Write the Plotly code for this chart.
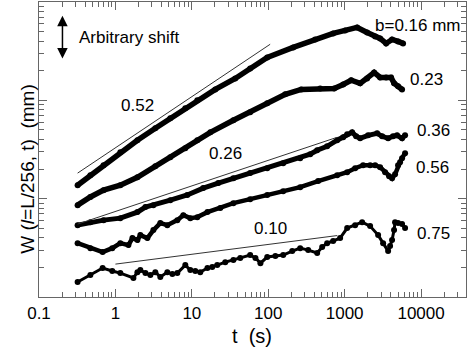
import numpy as np
import plotly.graph_objects as go

# W(l=L/256, t) curves, one per gap b (arbitrary shift)
t_016 = [0.32, 0.47, 0.70, 1.16, 1.94, 3.33, 5.23, 8.22, 11.8, 20.3, 37, 58, 97, 212,
         411, 707, 1015, 1456, 1968, 2505, 2911, 3486, 4174, 5000, 5813]
w_016 = [1.37, 1.73, 2.19, 2.97, 3.93, 5.20, 6.56, 8.29, 10.0, 12.9, 16.7, 21.1, 27.3, 34.5,
         41.6, 47.9, 51.4, 55.1, 49.0, 44.6, 42.6, 37.9, 41.6, 39.7, 37.9]

t_023 = [0.32, 0.47, 0.70, 1.16, 1.94, 3.33, 5.23, 8.22, 11.8, 17.5, 35, 58, 97, 167,
         270, 478, 729, 956, 1217, 1595, 1968, 2430, 2911, 3486, 4051, 4432, 5000, 5642]
w_023 = [0.859, 1.04, 1.22, 1.37, 1.65, 2.14, 2.64, 3.26, 3.93, 4.73, 6.27, 7.55, 9.33, 11.5,
         12.9, 13.2, 13.2, 14.5, 16.0, 14.9, 16.7, 19.2, 17.1, 17.1, 17.1, 14.9, 13.9, 12.9]

t_036 = [0.32, 0.47, 0.70, 1.16, 1.94, 2.47, 3.14, 5.23, 8.73, 14.1, 22.2, 35, 58, 97, 157,
         262, 354, 437, 590, 798, 956, 1079, 1253, 1413, 1595, 2028, 2660, 3092, 3704,
         4301, 4851, 5642, 6177]
w_036 = [0.538, 0.577, 0.605, 0.634, 0.730, 0.821, 0.859, 0.966, 1.09, 1.28, 1.44, 1.61,
         1.82, 2.04, 2.29, 2.58, 2.83, 3.11, 3.41, 3.93, 4.21, 4.52, 4.73, 4.31, 4.11, 4.41,
         4.62, 4.31, 4.11, 4.31, 4.41, 4.11, 4.41]

t_056 = [0.32, 0.47, 0.68, 0.91, 1.16, 1.48, 1.67, 1.94, 2.12, 2.62, 3.14, 3.87, 4.78, 6.46,
         7.74, 9.55, 11.8, 16.0, 23.6, 35, 58, 97, 157, 262, 450, 798, 1079, 1371, 1745,
         2154, 2505, 2911, 3383, 3816, 4174, 4567, 5000, 5311, 5642, 6177]
w_056 = [0.353, 0.314, 0.286, 0.314, 0.353, 0.337, 0.397, 0.379, 0.426, 0.397, 0.479, 0.564,
         0.538, 0.605, 0.679, 0.634, 0.649, 0.730, 0.802, 0.900, 0.989, 1.09, 1.19, 1.31,
         1.51, 1.73, 1.86, 2.04, 2.19, 2.19, 2.19, 2.09, 1.86, 1.69, 1.61, 1.77, 2.19, 2.35,
         2.58, 2.90]

t_075 = [0.32, 0.47, 0.68, 0.91, 1.16, 1.72, 1.94, 2.12, 2.47, 2.87, 3.33, 3.87, 4.78, 5.56,
         6.46, 8.22, 9.55, 11.1, 12.9, 16.0, 18.5, 21.5, 27.4, 35, 43, 58, 68, 79, 97, 124,
         157, 206, 262, 333, 437, 508, 590, 707, 873, 1079, 1371, 1694, 2154, 2741, 3186,
         3704, 3932, 4174, 4432, 4567, 5000, 5642, 6177]
w_075 = [0.142, 0.167, 0.197, 0.184, 0.175, 0.156, 0.179, 0.188, 0.175, 0.167, 0.179, 0.160,
         0.179, 0.171, 0.175, 0.211, 0.188, 0.184, 0.179, 0.197, 0.202, 0.211, 0.226, 0.238,
         0.249, 0.267, 0.249, 0.221, 0.255, 0.261, 0.267, 0.293, 0.314, 0.300, 0.280, 0.322,
         0.353, 0.371, 0.397, 0.502, 0.538, 0.577, 0.526, 0.426, 0.353, 0.293, 0.330, 0.379,
         0.479, 0.577, 0.564, 0.551, 0.502]

# power-law guide lines  W = A * t^exponent
fit_exponent = [0.52, 0.26, 0.10]
fit_prefactor = [3.29, 0.741, 0.216]
fit_t_start = [0.32, 0.32, 1.0]
fit_t_end = [106, 800, 800]

gap_labels = ["b=0.16 mm", "0.23", "0.36", "0.56", "0.75"]

font = "Liberation Sans, Arial, sans-serif"
fig = go.Figure()

curves = [(t_016, w_016), (t_023, w_023), (t_036, w_036), (t_056, w_056), (t_075, w_075)]
line_w = [5.5, 5.5, 5.0, 4.5, 3.0]
marker_s = [6, 6, 6, 6, 6]
for (t, w), lw, ms in zip(curves, line_w, marker_s):
    fig.add_trace(go.Scatter(x=t, y=w, mode="lines+markers",
                             line=dict(color="black", width=lw),
                             marker=dict(color="black", size=ms),
                             showlegend=False))

for a, p, t0, t1 in zip(fit_exponent, fit_prefactor, fit_t_start, fit_t_end):
    tt = np.array([t0, t1])
    fig.add_trace(go.Scatter(x=tt, y=p * tt ** a, mode="lines",
                             line=dict(color="#333333", width=1), showlegend=False))

# text labels (positions in log10 units)
label_pos = [(3.961, 1.761), (4.065, 1.213), (4.157, 0.695), (4.144, 0.320), (4.157, -0.350)]
for txt, (lx, ly) in zip(gap_labels, label_pos):
    fig.add_annotation(x=lx, y=ly, text=txt, showarrow=False, font=dict(size=17))

slope_pos = [(0.288, 0.949), (1.438, 0.462), (2.026, -0.30)]
for a, (lx, ly) in zip(fit_exponent, slope_pos):
    fig.add_annotation(x=lx, y=ly, text=f"{a:.2f}", showarrow=False, font=dict(size=17))

fig.add_annotation(x=-0.497, y=1.64, text="Arbitrary shift", showarrow=False,
                   xanchor="left", font=dict(size=17))
fig.add_annotation(x=-0.693, y=1.86, ax=-0.693, ay=1.41, axref="x", ayref="y",
                   text="", showarrow=True, arrowhead=2, arrowside="end+start",
                   arrowsize=1.4, arrowwidth=1.5, arrowcolor="black")

fig.add_annotation(xref="paper", yref="paper", x=0.498, y=-0.177, text="t\u00a0 (s)",
                   showarrow=False, font=dict(size=20))
fig.add_annotation(xref="paper", yref="paper", x=-0.057, y=0.432,
                   text="W (<i>l</i>=L/256, t)\u00a0 (mm)", textangle=-90,
                   showarrow=False, font=dict(size=19))

axis_common = dict(type="log", showgrid=False, zeroline=False, showline=True,
                   linecolor="#666666", linewidth=1, mirror="allticks", automargin=False,
                   ticks="inside", ticklen=8, tickcolor="#666666", dtick=1,
                   minor=dict(ticks="inside", ticklen=5, tickcolor="#666666", dtick="D1"))

fig.update_xaxes(**axis_common, range=[-1, 4.588],
                 tickvals=[0.1, 1, 10, 100, 1000, 10000],
                 ticktext=["0.1", "1", "10", "100", "1000", "10000"],
                 tickfont=dict(size=17, color="black"), ticklabelstandoff=1)
fig.update_yaxes(**axis_common, range=[-1, 2], showticklabels=False)

fig.update_layout(width=469, height=358, margin=dict(l=39, r=3, t=2, b=61),
                  plot_bgcolor="white", paper_bgcolor="white",
                  font=dict(family=font, color="black"))

# the page body has a default 8px margin; drop it so the figure sits at the corner
fig.write_html("out.html", config={"displayModeBar": False},
               post_script="document.body.style.margin='0';")
